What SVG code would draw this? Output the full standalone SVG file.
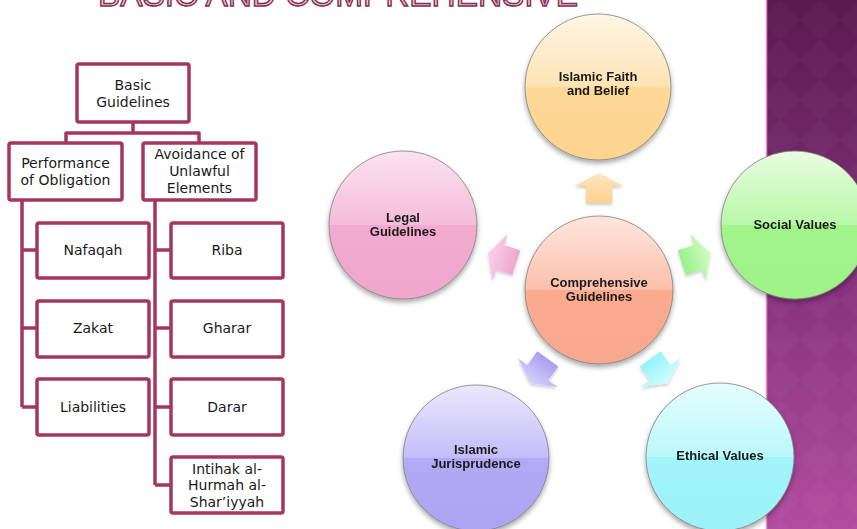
<svg xmlns="http://www.w3.org/2000/svg" width="857" height="529" viewBox="0 0 857 529">
<style>
.box{fill:#fff;stroke:#a5365f;stroke-width:3.5}
.ln{fill:none;stroke:#a5365f;stroke-width:3.5;stroke-linejoin:round}
.tt{font-family:"DejaVu Sans",Verdana,sans-serif;font-size:14px;fill:#1a1a1a;text-anchor:middle}
.ct{font-family:"Liberation Sans",Arial,sans-serif;font-weight:bold;font-size:13px;fill:#1a1a1a;text-anchor:middle}
.cir{stroke:#7d7d7d;stroke-width:0.8;filter:url(#sh)}
.title{font-family:"Liberation Sans",Arial,sans-serif;font-size:34px;fill:#f9c994;stroke:#7a2c6e;stroke-width:1.4}
</style>
<defs>
<linearGradient id="band" x1="0" y1="0" x2="0" y2="1">
<stop offset="0" stop-color="#5a1b4e"/><stop offset="0.5" stop-color="#83307a"/><stop offset="1" stop-color="#b24ca0"/>
</linearGradient>
<pattern id="dia" width="40" height="40" patternUnits="userSpaceOnUse">
<path d="M20,0 L40,20 L20,40 L0,20 Z" fill="#ffffff" fill-opacity="0.025"/>
</pattern>
<filter id="sh" x="-20%" y="-20%" width="140%" height="150%">
<feDropShadow dx="0" dy="3" stdDeviation="2.5" flood-color="#000" flood-opacity="0.35"/>
</filter>
<filter id="ash" x="-30%" y="-30%" width="160%" height="160%">
<feDropShadow dx="0" dy="2" stdDeviation="1.5" flood-color="#000" flood-opacity="0.2"/>
</filter>
<linearGradient id="gFaith" x1="0" y1="0" x2="0" y2="1">
<stop offset="0" stop-color="#fff6e6"/><stop offset="0.5" stop-color="#fde3b4"/><stop offset="0.5" stop-color="#fdd898"/><stop offset="1" stop-color="#fdd48e"/>
</linearGradient>
<linearGradient id="gLegal" x1="0" y1="0" x2="0" y2="1">
<stop offset="0" stop-color="#fbe3f0"/><stop offset="0.5" stop-color="#f5bbda"/><stop offset="0.5" stop-color="#f2aacf"/><stop offset="1" stop-color="#f0a6cd"/>
</linearGradient>
<linearGradient id="gComp" x1="0" y1="0" x2="0" y2="1">
<stop offset="0" stop-color="#ffe6df"/><stop offset="0.5" stop-color="#fcbfaa"/><stop offset="0.5" stop-color="#f9aa8f"/><stop offset="1" stop-color="#f8a88e"/>
</linearGradient>
<linearGradient id="gSocial" x1="0" y1="0" x2="0" y2="1">
<stop offset="0" stop-color="#e9fde2"/><stop offset="0.5" stop-color="#b9f8a8"/><stop offset="0.5" stop-color="#a2f48c"/><stop offset="1" stop-color="#9df288"/>
</linearGradient>
<linearGradient id="gJur" x1="0" y1="0" x2="0" y2="1">
<stop offset="0" stop-color="#ebe8fd"/><stop offset="0.5" stop-color="#c4bcf8"/><stop offset="0.5" stop-color="#b3a9f4"/><stop offset="1" stop-color="#aea3f2"/>
</linearGradient>
<linearGradient id="gEth" x1="0" y1="0" x2="0" y2="1">
<stop offset="0" stop-color="#e6fefe"/><stop offset="0.5" stop-color="#baf8fb"/><stop offset="0.5" stop-color="#a2f4f9"/><stop offset="1" stop-color="#9df2f8"/>
</linearGradient>
<linearGradient id="aFaith" x1="0" y1="0" x2="0" y2="1"><stop offset="0" stop-color="#fde6c0"/><stop offset="1" stop-color="#fdd18c"/></linearGradient>
<linearGradient id="aSocial" x1="0" y1="0" x2="0" y2="1"><stop offset="0" stop-color="#d2fcc4"/><stop offset="1" stop-color="#98f08a"/></linearGradient>
<linearGradient id="aEth" x1="0" y1="0" x2="0" y2="1"><stop offset="0" stop-color="#d2fdfd"/><stop offset="1" stop-color="#96f2f8"/></linearGradient>
<linearGradient id="aJur" x1="0" y1="0" x2="0" y2="1"><stop offset="0" stop-color="#d8d2fb"/><stop offset="1" stop-color="#a89cf2"/></linearGradient>
<linearGradient id="aLegal" x1="0" y1="0" x2="0" y2="1"><stop offset="0" stop-color="#f9d3e8"/><stop offset="1" stop-color="#eea6cf"/></linearGradient>
<path id="arr" d="M0,-15 L24.5,-2 L13,-2 L13,15 L-13,15 L-13,-2 L-24.5,-2 Z"/>
</defs>

<rect width="857" height="529" fill="#ffffff"/>
<g id="band-bg">
<rect x="767" y="0" width="90" height="529" fill="url(#band)"/>
<rect x="767" y="0" width="90" height="529" fill="url(#dia)"/>
<line x1="766.5" y1="0" x2="766.5" y2="529" stroke="#e98ac8" stroke-width="1.5"/>
</g>

<text class="title" x="98" y="6" textLength="480" lengthAdjust="spacingAndGlyphs">BASIC AND COMPREHENSIVE</text>

<g id="tree-connectors">
<path class="ln" d="M133,122 V133 M66,143 V133 H199 V143"/>
<path class="ln" d="M22,200 V407 M22,250 H37 M22,328 H37 M22,407 H37"/>
<path class="ln" d="M155,200 V485 M155,250 H171 M155,328 H171 M155,407 H171 M155,485 H171"/>
</g>

<g id="basic"><rect class="box" x="77" y="64" width="112" height="58" rx="2"/>
<text class="tt" x="133" y="90">Basic</text><text class="tt" x="133" y="107">Guidelines</text></g>
<g id="performance"><rect class="box" x="9" y="143" width="113" height="57" rx="2"/>
<text class="tt" x="65.5" y="168">Performance</text><text class="tt" x="65.5" y="185">of Obligation</text></g>
<g id="avoidance"><rect class="box" x="143" y="143" width="113" height="57" rx="2"/>
<text class="tt" x="199.5" y="159">Avoidance of</text><text class="tt" x="199.5" y="176">Unlawful</text><text class="tt" x="199.5" y="193">Elements</text></g>
<g id="nafaqah"><rect class="box" x="37" y="223" width="112" height="55" rx="2"/><text class="tt" x="93" y="255">Nafaqah</text></g>
<g id="zakat"><rect class="box" x="37" y="301" width="112" height="56" rx="2"/><text class="tt" x="93" y="333">Zakat</text></g>
<g id="liabilities"><rect class="box" x="37" y="379" width="112" height="56" rx="2"/><text class="tt" x="93" y="412">Liabilities</text></g>
<g id="riba"><rect class="box" x="171" y="223" width="112" height="55" rx="2"/><text class="tt" x="227" y="255">Riba</text></g>
<g id="gharar"><rect class="box" x="171" y="301" width="112" height="56" rx="2"/><text class="tt" x="227" y="333">Gharar</text></g>
<g id="darar"><rect class="box" x="171" y="379" width="112" height="56" rx="2"/><text class="tt" x="227" y="412">Darar</text></g>
<g id="intihak"><rect class="box" x="171" y="457" width="112" height="56" rx="2"/>
<text class="tt" x="227" y="474">Intihak al-</text><text class="tt" x="227" y="490">Hurmah al-</text><text class="tt" x="227" y="507">Shar’iyyah</text></g>

<g id="arrows" filter="url(#ash)">
<use href="#arr" fill="url(#aFaith)" transform="translate(599,188)"/>
<use href="#arr" fill="url(#aSocial)" transform="translate(696,258) rotate(72)"/>
<use href="#arr" fill="url(#aEth)" transform="translate(659,371) rotate(144)"/>
<use href="#arr" fill="url(#aJur)" transform="translate(539,371) rotate(216)"/>
<use href="#arr" fill="url(#aLegal)" transform="translate(502,258) rotate(288)"/>
</g>

<g id="faith"><circle class="cir" cx="598" cy="87" r="73" fill="url(#gFaith)"/>
<text class="ct" x="598" y="81">Islamic Faith</text><text class="ct" x="598" y="95">and Belief</text></g>
<g id="legal"><circle class="cir" cx="403" cy="225" r="74" fill="url(#gLegal)"/>
<text class="ct" x="403" y="222">Legal</text><text class="ct" x="403" y="236">Guidelines</text></g>
<g id="comprehensive"><circle class="cir" cx="599" cy="290" r="74" fill="url(#gComp)"/>
<text class="ct" x="599" y="287">Comprehensive</text><text class="ct" x="599" y="301">Guidelines</text></g>
<g id="social"><circle class="cir" cx="795" cy="225" r="74" fill="url(#gSocial)"/>
<text class="ct" x="795" y="229">Social Values</text></g>
<g id="jurisprudence"><circle class="cir" cx="476" cy="458" r="73" fill="url(#gJur)"/>
<text class="ct" x="476" y="454">Islamic</text><text class="ct" x="476" y="468">Jurisprudence</text></g>
<g id="ethical"><circle class="cir" cx="720" cy="457" r="74" fill="url(#gEth)"/>
<text class="ct" x="720" y="460">Ethical Values</text></g>
</svg>
